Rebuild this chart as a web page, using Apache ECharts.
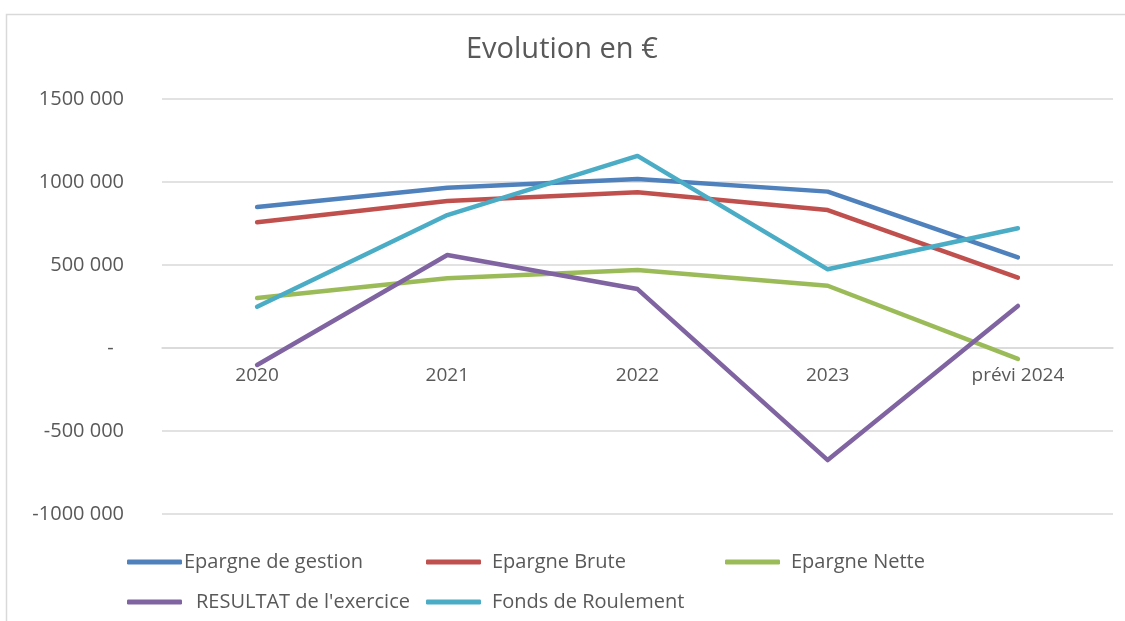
<!DOCTYPE html>
<html lang="fr">
  <head>
    <meta charset="UTF-8" />
    <title>Evolution en €</title>
    <script src="https://cdn.jsdelivr.net/npm/echarts@6.0.0/dist/echarts.min.js"></script>
    <style>
      html, body { margin: 0; padding: 0; background: #fff; }
    </style>
  </head>
  <body>
    <div id="main" style="width: 1125px; height: 621px"></div>
    <script type="text/javascript">
      // data
      const categories = ["2020", "2021", "2022", "2023", "prévi 2024"];
      const epargneGestion = [849000, 966000, 1018000, 942000, 546000];
      const epargneBrute = [757000, 886000, 938000, 831000, 424000];
      const epargneNette = [301000, 420000, 470000, 375000, -66000];
      const resultat = [-102000, 560000, 355000, -675000, 253000];
      const fondsRoulement = [249000, 801000, 1157000, 474000, 721000];
      const tickValues = [-1000000, -500000, 0, 500000, 1000000, 1500000];
      const tickLabels = ["-1000 000", "-500 000", "-  ", "500 000", "1000 000", "1500 000"];

      const seriesNames = [
        "Epargne de gestion",
        "Epargne Brute",
        "Epargne Nette",
        "RESULTAT de l'exercice",
        "Fonds de Roulement",
      ];
      const seriesData = [epargneGestion, epargneBrute, epargneNette, resultat, fondsRoulement];
      const colors = ["#4F81BD", "#C0504D", "#9BBB59", "#8064A2", "#4BACC6"];

      const font = "'Open Sans', sans-serif";
      const grey = "#595959";

      // one legend per entry so they sit in Excel-like columns
      const legendPos = [
        { left: 127, top: 552, pad: [0, 0, 0, -3] },
        { left: 426, top: 552, pad: [0, 0, 0, 6] },
        { left: 725, top: 552, pad: [0, 0, 0, 6] },
        { left: 127, top: 592, pad: [0, 0, 0, 9] },
        { left: 426, top: 592, pad: [0, 0, 0, 6] },
      ];
      const legends = seriesNames.map((name, i) => ({
        data: [name],
        left: legendPos[i].left,
        top: legendPos[i].top,
        icon: "roundRect",
        itemWidth: 55,
        itemHeight: 5,
        padding: 0,
        textStyle: { color: grey, fontSize: 20, fontFamily: font, padding: legendPos[i].pad },
        selectedMode: false,
      }));

      let options = {
        animation: false,
        color: colors,
        title: {
          text: "Evolution en €",
          left: 461,
          top: 30,
          textStyle: { color: grey, fontSize: 29, fontWeight: "normal", fontFamily: font },
        },
        graphic: [
          {
            type: "rect",
            left: 4,
            top: 12,
            shape: { width: 1140, height: 640 },
            style: { fill: "none", stroke: "#d9d9d9", lineWidth: 1.5 },
            silent: true,
          },
        ],
        legend: legends,
        grid: { left: 162, right: 12, top: 99, bottom: 107, containLabel: false },
        xAxis: {
          type: "category",
          data: categories,
          boundaryGap: true,
          position: "bottom",
          offset: -166, // sits on the zero line, like Excel
          axisLine: { show: true, onZero: false, lineStyle: { color: "#d9d9d9", width: 1.5 } },
          axisTick: { show: false },
          axisLabel: { color: grey, fontSize: 19, fontFamily: font, margin: 18 },
        },
        yAxis: {
          type: "value",
          min: -1000000,
          max: 1500000,
          interval: 500000,
          axisLine: { show: false },
          axisTick: { show: false },
          splitLine: { lineStyle: { color: "#d9d9d9", width: 1.5 } },
          axisLabel: {
            color: grey,
            fontSize: 20,
            fontFamily: font,
            margin: 38,
            formatter: (v) => {
              const i = tickValues.indexOf(v);
              return i >= 0 ? tickLabels[i] : "";
            },
          },
        },
        series: seriesNames.map((name, i) => ({
          name: name,
          type: "line",
          data: seriesData[i],
          symbol: "none",
          lineStyle: { width: 4.5, cap: "round", join: "round", color: colors[i] },
          itemStyle: { color: colors[i] },
          z: 2 + i,
        })),
      };

      let myChart = echarts.init(document.getElementById("main"));
      myChart.setOption(options);
    </script>
  </body>
</html>
